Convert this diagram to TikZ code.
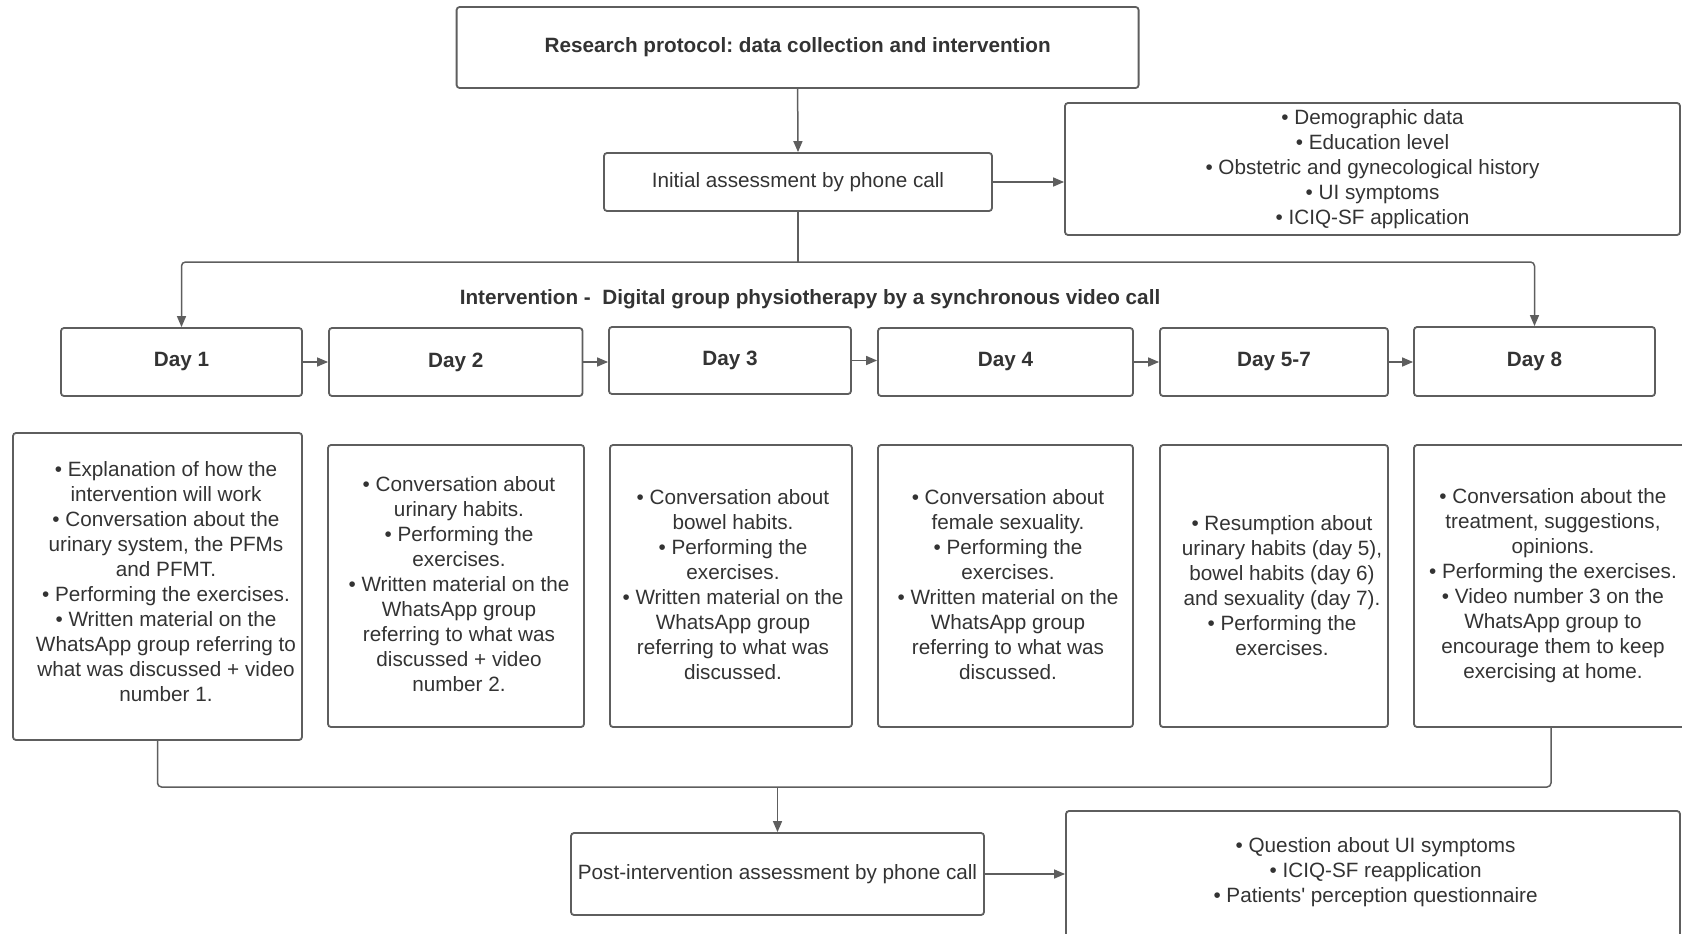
\documentclass[tikz,border=0pt]{standalone}
\usepackage{fontspec}
\setmainfont{Liberation Sans}
\usetikzlibrary{arrows.meta}
\definecolor{linec}{HTML}{5E5E5E}
\definecolor{textc}{HTML}{333333}
\frenchspacing
\begin{document}
\begin{tikzpicture}[x=1pt,y=-1pt,
  box/.style={draw=linec, line width=1.8pt, rounded corners=3pt, inner sep=0pt, text=textc, align=center, font=\fontsize{20.7}{25}\selectfont},
  bbox/.style={box, font=\fontsize{20.7}{25}\selectfont\bfseries},
  txt/.style={text=textc, align=center, inner sep=0pt, font=\fontsize{20.7}{25}\selectfont},
  conn/.style={draw=linec, line width=1.5pt},
  arr/.style={conn, -{Triangle[length=11pt,width=9pt]}},
]
\useasboundingbox (0,0) rectangle (1682,934);
\clip (0,0) rectangle (1682,934);

% top
\node[bbox, minimum width=682, minimum height=81] (title) at (797.6,47.5) {Research protocol: data collection and intervention};
\node[box, minimum width=388, minimum height=58] (init) at (798,182) {Initial assessment by phone call};
\node[box, minimum width=615, minimum height=132] (ib) at (1372.5,169) {• Demographic data\\• Education level\\• Obstetric and gynecological history\\• UI symptoms\\• ICIQ-SF application};

\node[txt, font=\fontsize{20.7}{25}\selectfont\bfseries] (ilab) at (810,299) {Intervention -\ \ Digital group physiotherapy by a synchronous video call};

% day boxes
\node[bbox, minimum width=241, minimum height=68] (d1) at (181.5,362) {Day 1};
\node[bbox, minimum width=253.5, minimum height=68] (d2) at (455.75,362) {Day 2};
\node[bbox, minimum width=242, minimum height=67] (d3) at (730,360.5) {Day 3};
\node[bbox, minimum width=255, minimum height=68] (d4) at (1005.5,362) {Day 4};
\node[bbox, minimum width=228, minimum height=68] (d5) at (1274,362) {Day 5-7};
\node[bbox, minimum width=241, minimum height=69] (d8) at (1534.5,361.5) {Day 8};

% content boxes
\node[box, minimum width=289, minimum height=307] (d1c) at (157.5,586.5) {};
\node[txt] (d1t) at (166,581.5) {• Explanation of how the\\intervention will work\\• Conversation about the\\urinary system, the PFMs\\and PFMT.\\• Performing the exercises.\\• Written material on the\\WhatsApp group referring to\\what was discussed + video\\number 1.};
\node[box, minimum width=256, minimum height=282] (d2c) at (456,586) {};
\node[txt] (d2t) at (459,584.5) {• Conversation about\\urinary habits.\\• Performing the\\exercises.\\• Written material on the\\WhatsApp group\\referring to what was\\discussed + video\\number 2.};
\node[box, minimum width=242, minimum height=282] (d3c) at (731,586) {};
\node[txt] (d3t) at (733,584.5) {• Conversation about\\bowel habits.\\• Performing the\\exercises.\\• Written material on the\\WhatsApp group\\referring to what was\\discussed.};
\node[box, minimum width=255, minimum height=282] (d4c) at (1005.5,586) {};
\node[txt] (d4t) at (1008,584.5) {• Conversation about\\female sexuality.\\• Performing the\\exercises.\\• Written material on the\\WhatsApp group\\referring to what was\\discussed.};
\node[box, minimum width=228, minimum height=282] (d5c) at (1274,586) {};
\node[txt] (d5t) at (1282,585.5) {• Resumption about\\urinary habits (day 5),\\bowel habits (day 6)\\and sexuality (day 7).\\• Performing the\\exercises.};
\node[box, minimum width=274, minimum height=282] (d8c) at (1551,586) {};
\node[txt] (d8t) at (1553,585.5) {• Conversation about the\\treatment, suggestions,\\opinions.\\• Performing the exercises.\\• Video number 3 on the\\WhatsApp group to\\encourage them to keep\\exercising at home.};

% bottom
\node[box, minimum width=413, minimum height=82] (post) at (777.5,874) {Post-intervention assessment by phone call};
\node[box, minimum width=614, minimum height=149] (pb) at (1373,885.5) {};
\node[txt] (pbt) at (1375.6,872) {• Question about UI symptoms\\• ICIQ-SF reapplication\\• Patients\textquotesingle{} perception questionnaire};

% connectors
\draw[arr] (title.south) -- (init.north);
\draw[arr] (init.east) -- (init.east -| ib.west);
\coordinate (sp) at (798,262);
\draw[conn] (init.south) -- (sp);
\draw[arr, rounded corners=4pt] (sp) -| (d1.north);
\draw[arr, rounded corners=4pt] (sp) -| (d8.north);
\draw[arr] (d1.east) -- (d1.east -| d2.west);
\draw[arr] (d2.east) -- (d2.east -| d3.west);
\draw[arr] (d3.east) -- (d3.east -| d4.west);
\draw[arr] (d4.east) -- (d4.east -| d5.west);
\draw[arr] (d5.east) -- (d5.east -| d8.west);
\coordinate (mj) at (777.5,787);
\draw[conn, rounded corners=4pt] (d1c.south) |- (mj) -| (d8c.south);
\draw[arr] (mj) -- (post.north);
\draw[arr] (post.east) -- (post.east -| pb.west);
\end{tikzpicture}
\end{document}
